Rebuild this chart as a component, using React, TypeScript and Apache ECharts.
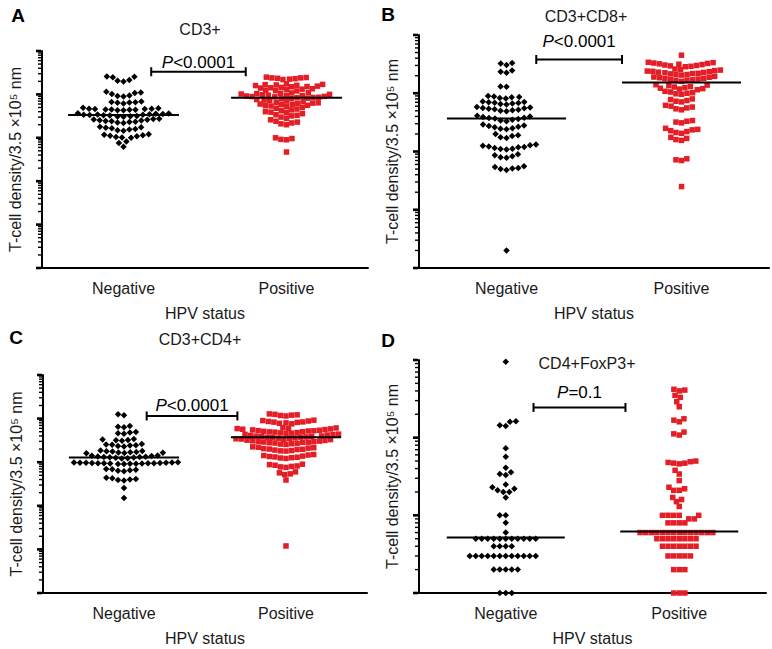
import React, { useEffect, useRef } from "react";
import * as echarts from "echarts";

// ---------- data ----------
const CATEGORIES = ["Negative", "Positive"];
const PANEL_LETTERS = ["A", "B", "C", "D"];
const PANEL_TITLES = ["CD3+", "CD3+CD8+", "CD3+CD4+", "CD4+FoxP3+"];
const P_TEXT = ["<0.0001", "<0.0001", "<0.0001", "=0.1"];
const X_NAME = "HPV status";
const Y_NAME = "T-cell density/3.5 \u00d710\u2075 nm";
const Y_MIN = [1, 1, 1, 1];
const Y_MAX = [100000, 10000, 100000, 1000];

const A_NEG = [26000, 25500, 25000, 21500, 20500, 19800, 11500, 11000, 10800, 10200, 9400, 9200, 8900, 6900, 6700, 6600, 6500, 6400, 6200, 4900, 4800, 4700, 4700, 4600, 4600, 4500, 4500, 4400, 4400, 4300, 4300, 3700, 3650, 3600, 3550, 3500, 3450, 3400, 3400, 3350, 3300, 3250, 3200, 3150, 3100, 3050, 2750, 2700, 2650, 2600, 2550, 2500, 2450, 2400, 2350, 2300, 2250, 2200, 1800, 1750, 1700, 1650, 1600, 1550, 1500, 1450, 1200, 1170, 1140, 1110, 1080, 1050, 1020, 1000, 820, 760, 620];
const A_POS = [25000, 24500, 24000, 24000, 23500, 23000, 22500, 22000, 17500, 17000, 16800, 16500, 16200, 16000, 15500, 15200, 15000, 14500, 14200, 14000, 13500, 13200, 13000, 12500, 12200, 12000, 11000, 10800, 10600, 10400, 10200, 10000, 9800, 9600, 9500, 9400, 9200, 9000, 8900, 8800, 8600, 8500, 8400, 8200, 8000, 7900, 7600, 7400, 7200, 7000, 6800, 6600, 6400, 6300, 6200, 6000, 5900, 5800, 5600, 5500, 5400, 5200, 5000, 4800, 4600, 4400, 4200, 4000, 3900, 3800, 3600, 3400, 3300, 3200, 3000, 2800, 2600, 2400, 2300, 2200, 2100, 2000, 1000, 960, 920, 900, 470];
const B_NEG = [3300, 3250, 3050, 2450, 2350, 2250, 1300, 1290, 900, 880, 860, 850, 830, 810, 720, 710, 700, 690, 680, 670, 655, 640, 580, 570, 560, 550, 540, 530, 520, 510, 500, 490, 410, 400, 390, 380, 375, 370, 360, 350, 340, 330, 290, 280, 275, 265, 260, 250, 245, 240, 200, 190, 185, 175, 170, 132, 128, 125, 122, 120, 118, 115, 112, 110, 108, 90, 86, 83, 80, 78, 56, 54, 52, 51, 50, 48, 2];
const B_POS = [4500, 3400, 3350, 3300, 3250, 3200, 3150, 3100, 3050, 3000, 2950, 2900, 2850, 2600, 2550, 2500, 2450, 2400, 2380, 2350, 2300, 2280, 2250, 2200, 2180, 2150, 2100, 2080, 2050, 1950, 1900, 1880, 1850, 1800, 1780, 1750, 1720, 1700, 1680, 1650, 1600, 1400, 1380, 1350, 1300, 1280, 1250, 1220, 1200, 1180, 1150, 1080, 1050, 1020, 1000, 980, 960, 800, 780, 750, 730, 710, 620, 600, 580, 560, 540, 520, 340, 330, 320, 310, 250, 240, 235, 228, 220, 212, 205, 175, 168, 160, 155, 75, 72, 70, 25];
const C_NEG = [12500, 12000, 6800, 6500, 6300, 4900, 4800, 4600, 4500, 3400, 3300, 3250, 3200, 3100, 2600, 2550, 2500, 2450, 2400, 2350, 2300, 1850, 1800, 1780, 1750, 1720, 1700, 1680, 1650, 1620, 1600, 1420, 1400, 1380, 1360, 1340, 1320, 1310, 1300, 1280, 1260, 1240, 1220, 1000, 990, 980, 975, 970, 965, 960, 955, 950, 950, 945, 940, 935, 930, 925, 920, 915, 910, 700, 690, 670, 650, 640, 620, 440, 430, 410, 400, 390, 380, 257, 151];
const C_POS = [12800, 12500, 12200, 12000, 11800, 11500, 9200, 9000, 8800, 8600, 8400, 8300, 8200, 8000, 7800, 7600, 6200, 6100, 6000, 5900, 5800, 5700, 5600, 5500, 5400, 5300, 5250, 5200, 5100, 5000, 4950, 4900, 4800, 4700, 4650, 4600, 4400, 4350, 4300, 4200, 4100, 4000, 3950, 3900, 3850, 3800, 3750, 3700, 3650, 3600, 3550, 3500, 3450, 3400, 3350, 3300, 3200, 3150, 3100, 3050, 3000, 2950, 2900, 2880, 2850, 2800, 2750, 2700, 2650, 2600, 2550, 2250, 2200, 2150, 2100, 2050, 2000, 1980, 1950, 1900, 1850, 1820, 1800, 1500, 1460, 1420, 1380, 1350, 1320, 1300, 1270, 1250, 1220, 900, 880, 850, 820, 800, 780, 760, 600, 570, 540, 520, 390, 12];
const D_NEG = [950, 163, 160, 145, 141, 73, 57, 41, 36, 34, 33, 25, 23, 22, 21, 20, 20, 17, 10, 10, 8, 6, 5, 5, 5, 5, 5, 5, 5, 5, 5, 5, 5, 4, 4, 4, 4, 3, 3, 3, 3, 3, 3, 3, 3, 3, 3, 3, 3, 2, 2, 2, 2, 2, 1, 1, 1];
const D_POS = [420, 410, 400, 350, 330, 290, 250, 175, 168, 160, 118, 112, 108, 50, 49, 48, 47, 47, 46, 38, 34, 28, 23, 22, 21, 21, 17, 16, 15, 13, 10, 10, 10, 10, 10, 9, 9, 8, 8, 8, 8, 6, 6, 6, 6, 6, 6, 6, 6, 6, 6, 6, 6, 6, 6, 5, 5, 5, 5, 5, 5, 5, 5, 4, 4, 4, 4, 4, 4, 4, 3, 3, 3, 3, 3, 2, 2, 2, 1, 1, 1];

const NEG_DATA = [A_NEG, B_NEG, C_NEG, D_NEG];
const POS_DATA = [A_POS, B_POS, C_POS, D_POS];
const MEDIAN_NEG = [3350, 369, 1290, 5.2];
const MEDIAN_POS = [8400, 1530, 3720, 6.2];
const BRACKET_Y = [33300, 3800, 11500, 245];
const BRACKET_X = [
  [0.17, 0.75],
  [0.17, 0.66],
  [0.14, 0.7],
  [0.16, 0.69],
];
const MINOR_STEPS = [2, 3, 4, 5, 6, 7, 8, 9];

// ---------- layout ----------
const GRIDS = [
  { left: 42, top: 51, width: 326, height: 217 },
  { left: 419, top: 35, width: 350, height: 233 },
  { left: 43, top: 375, width: 324, height: 218 },
  { left: 419, top: 360, width: 347, height: 233 },
];
const LETTER_POS = [
  [18, 15],
  [388, 14],
  [16, 337],
  [388, 340],
];
const TITLE_POS = [
  [200, 29],
  [586, 16],
  [200, 339],
  [587, 363],
];
const P_DIST = [1, 9, 1.5, 6];
const MEDIAN_HALF = 0.34;
const FONT = "'Liberation Sans', Arial, Helvetica, sans-serif";
const RED = "#e41e26";
const TXT = "#1a1a1a";

function buildTicks(min: number, max: number) {
  const out: number[][] = [];
  const e0 = Math.round(Math.log10(min));
  const e1 = Math.round(Math.log10(max));
  for (let e = e0; e <= e1; e++) {
    const base = Math.pow(10, e);
    out.push([-0.5, base, 1]);
    if (e < e1) MINOR_STEPS.forEach((m) => out.push([-0.5, m * base, 0]));
  }
  return out;
}

// deterministic beeswarm layout: horizontal offsets (px) for each value
function swarm(values: number[], pxPerDecade: number, d: number) {
  const order = values.map((_, i) => i).sort((a, b) => values[a] - values[b]);
  const placed: { x: number; y: number }[] = [];
  const out = new Array(values.length).fill(0);
  for (const i of order) {
    const y = Math.log10(values[i]) * pxPerDecade;
    const blocks: number[][] = [];
    for (const p of placed) {
      const dy = Math.abs(p.y - y);
      if (dy < d) {
        const w = Math.sqrt(d * d - dy * dy);
        blocks.push([p.x - w, p.x + w]);
      }
    }
    const cands = [0];
    blocks.forEach(([a, b]) => cands.push(a, b));
    cands.sort((a, b) => Math.abs(a) - Math.abs(b));
    let x = 0;
    for (const c of cands) {
      if (blocks.every(([a, b]) => c <= a + 1e-6 || c >= b - 1e-6)) {
        x = c;
        break;
      }
    }
    placed.push({ x, y });
    out[i] = x;
  }
  return out;
}

function buildOption() {
  const grid: any[] = [];
  const xAxis: any[] = [];
  const yAxis: any[] = [];
  const series: any[] = [];
  const graphic: any[] = [];
  const textStyle = { color: TXT, fontSize: 16, fontFamily: FONT };

  GRIDS.forEach((g, i) => {
    grid.push({ ...g, containLabel: false });
    xAxis.push({
      type: "category",
      gridIndex: i,
      data: CATEGORIES,
      boundaryGap: true,
      axisLine: { onZero: false, lineStyle: { color: "#000", width: 2 } },
      axisTick: { alignWithLabel: true, length: 5, lineStyle: { color: "#000", width: 2 } },
      axisLabel: { ...textStyle, margin: 12 },
      name: X_NAME,
      nameLocation: "middle",
      nameGap: 37,
      nameTextStyle: textStyle,
    });
    xAxis.push({ type: "value", gridIndex: i, min: -0.5, max: 1.5, show: false });
    yAxis.push({
      type: "log",
      logBase: 10,
      gridIndex: i,
      min: Y_MIN[i],
      max: Y_MAX[i],
      axisLine: { show: true, onZero: false, lineStyle: { color: "#000", width: 2 } },
      axisTick: { show: false },
      axisLabel: { show: false },
      splitLine: { show: false },
      name: Y_NAME,
      nameLocation: "middle",
      nameRotate: 90,
      nameGap: 19,
      nameTextStyle: textStyle,
    });
    const xi = 2 * i + 1;
    const decades = Math.log10(Y_MAX[i]) - Math.log10(Y_MIN[i]);
    const pxPerDecade = g.height / decades;
    const unit = g.width / 2;

    series.push({
      type: "custom",
      xAxisIndex: xi,
      yAxisIndex: i,
      data: buildTicks(Y_MIN[i], Y_MAX[i]),
      encode: { x: 0, y: 1 },
      clip: false,
      silent: true,
      renderItem: (params: any, api: any) => {
        const pt = api.coord([api.value(0), api.value(1)]);
        const major = api.value(2) === 1;
        const len = major ? 6 : 4;
        return {
          type: "line",
          shape: { x1: pt[0] - len, y1: pt[1], x2: pt[0] - 1, y2: pt[1] },
          style: { stroke: "#000", lineWidth: major ? 2.6 : 1.4 },
        };
      },
    });

    const neg = NEG_DATA[i];
    const pos = POS_DATA[i];
    const negOff = swarm(neg, pxPerDecade, 6);
    const posOff = swarm(pos, pxPerDecade, 5.6);
    series.push({
      type: "scatter",
      xAxisIndex: xi,
      yAxisIndex: i,
      data: neg.map((v, k) => [0 + negOff[k] / unit, v]),
      symbol: "diamond",
      symbolSize: 6.5,
      itemStyle: { color: "#000", opacity: 1 },
      clip: false,
      silent: true,
    });
    series.push({
      type: "scatter",
      xAxisIndex: xi,
      yAxisIndex: i,
      data: pos.map((v, k) => [1 + posOff[k] / unit, v]),
      symbol: "rect",
      symbolSize: 5.5,
      itemStyle: { color: RED, opacity: 1 },
      clip: false,
      silent: true,
    });
    [MEDIAN_NEG[i], MEDIAN_POS[i]].forEach((m, c) => {
      series.push({
        type: "line",
        xAxisIndex: xi,
        yAxisIndex: i,
        data: [
          [c - MEDIAN_HALF, m],
          [c + MEDIAN_HALF, m],
        ],
        symbol: "none",
        lineStyle: { color: "#000", width: 2 },
        silent: true,
        z: 5,
      });
    });
    const [bx1, bx2] = BRACKET_X[i];
    series.push({
      type: "line",
      xAxisIndex: xi,
      yAxisIndex: i,
      data: [
        [bx1, BRACKET_Y[i]],
        [bx2, BRACKET_Y[i]],
      ],
      symbol: "rect",
      symbolSize: [2, 9],
      itemStyle: { color: "#000" },
      lineStyle: { color: "#000", width: 2 },
      silent: true,
      clip: false,
    });
    series.push({
      type: "scatter",
      xAxisIndex: xi,
      yAxisIndex: i,
      data: [[(bx1 + bx2) / 2, BRACKET_Y[i]]],
      symbolSize: 0.1,
      itemStyle: { color: "#000", opacity: 1 },
      silent: true,
      clip: false,
      label: {
        show: true,
        position: "top",
        distance: P_DIST[i],
        color: "#000",
        opacity: 1,
        fontSize: 17,
        fontFamily: FONT,
        formatter: "{i|P}" + P_TEXT[i],
        rich: { i: { fontStyle: "italic", fontSize: 17, fontFamily: FONT, color: "#000" } },
      },
    });

    graphic.push({
      type: "text",
      x: LETTER_POS[i][0],
      y: LETTER_POS[i][1],
      style: {
        text: PANEL_LETTERS[i],
        font: "bold 19px " + FONT,
        fill: "#000",
        textAlign: "center",
        textVerticalAlign: "middle",
        align: "center",
        verticalAlign: "middle",
      },
    });
    graphic.push({
      type: "text",
      x: TITLE_POS[i][0],
      y: TITLE_POS[i][1],
      style: {
        text: PANEL_TITLES[i],
        font: "16px " + FONT,
        fill: TXT,
        textAlign: "center",
        textVerticalAlign: "middle",
        align: "center",
        verticalAlign: "middle",
      },
    });
  });

  return {
    animation: false,
    backgroundColor: "#fff",
    grid,
    xAxis,
    yAxis,
    series,
    graphic,
  };
}

export default function App() {
  const ref = useRef<HTMLDivElement>(null);
  useEffect(() => {
    if (!ref.current) return;
    const chart = echarts.init(ref.current, undefined, { renderer: "svg" });
    chart.setOption(buildOption() as any);
    return () => chart.dispose();
  }, []);
  return (
    <div
      ref={ref}
      style={{ position: "fixed", left: 0, top: 0, width: 772, height: 649, background: "#fff" }}
    />
  );
}
